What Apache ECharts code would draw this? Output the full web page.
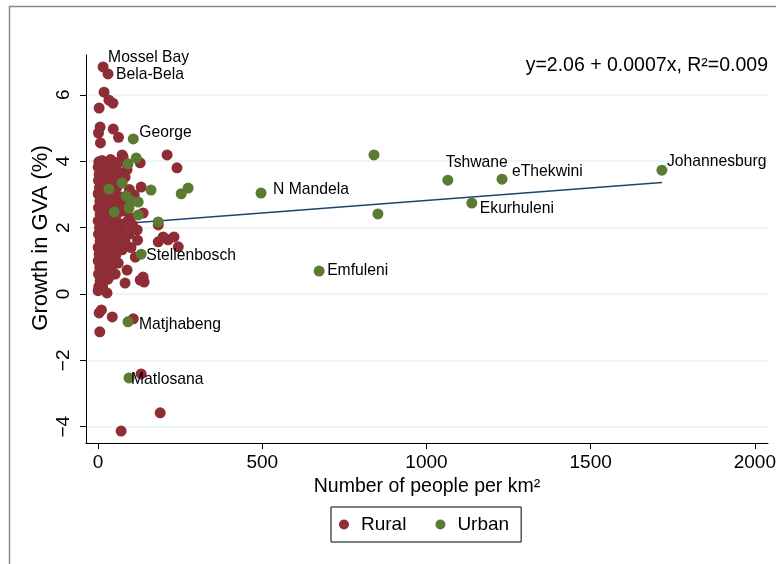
<!DOCTYPE html>
<html><head><meta charset="utf-8">
<script src="https://cdn.jsdelivr.net/npm/echarts@6/dist/echarts.min.js"></script>
<style>html,body{margin:0;padding:0;background:#fff}#c{width:776px;height:564px}</style>
</head><body><div id="c"></div>
<script>
// ---- data ----
const ruralPoints = [
  [18,6.08],[33,5.84],[45,5.75],[3,5.60],[6,5.03],[1,4.85],[46,4.97],[62,4.72],[7,4.55],
  [210,4.19],[240,3.80],[73,4.19],[76,4.13],[61,3.95],[128,3.95],
  [2,3.98],[12,4.02],[25,3.96],[38,4.05],[50,3.97],
  [0,3.82],[9,3.78],[20,3.85],[32,3.75],[44,3.80],[58,3.70],[88,3.75],
  [3,3.60],[14,3.62],[26,3.55],[40,3.60],[55,3.52],[68,3.58],[82,3.52],
  [1,3.42],[10,3.38],[22,3.45],[35,3.35],[48,3.40],[62,3.30],
  [4,3.20],[16,3.18],[28,3.22],[42,3.15],[56,3.20],[95,3.15],[131,3.22],
  [0,3.02],[12,2.98],[24,3.05],[36,2.95],[50,3.00],[70,2.92],[110,2.98],
  [5,2.80],[18,2.82],[30,2.75],[44,2.85],[60,2.78],[85,2.70],
  [1,2.60],[13,2.58],[25,2.65],[38,2.55],[52,2.62],[75,2.50],[137,2.44],
  [6,2.40],[18,2.38],[30,2.45],[42,2.35],[58,2.42],[98,2.30],
  [0,2.20],[11,2.22],[23,2.15],[35,2.25],[48,2.18],[66,2.12],[90,2.20],
  [4,2.00],[16,1.98],[28,2.05],[40,1.95],[55,2.02],[80,1.90],[119,1.93],[105,2.08],[183,2.08],
  [1,1.80],[12,1.82],[24,1.75],[36,1.85],[50,1.78],[70,1.72],[95,1.80],
  [198,1.72],[183,1.57],[213,1.63],[231,1.72],[244,1.42],
  [6,1.60],[18,1.62],[30,1.55],[44,1.65],[60,1.58],[82,1.57],[120,1.62],
  [0,1.40],[12,1.38],[24,1.45],[38,1.35],[52,1.42],[73,1.33],[100,1.40],
  [3,1.20],[15,1.22],[27,1.15],[40,1.25],[54,1.18],[113,1.11],
  [0,1.00],[10,0.98],[22,1.05],[34,0.95],[48,1.02],[61,0.93],
  [5,0.80],[17,0.82],[29,0.75],[42,0.85],[88,0.72],
  [1,0.60],[12,0.58],[24,0.65],[36,0.55],[52,0.60],[137,0.51],
  [6,0.40],[18,0.38],[30,0.45],[82,0.33],[128,0.42],[140,0.36],
  [2,0.22],[6,0.27],[14,0.18],[27,0.03],[0,0.10],
  [3,-0.57],[10,-0.48],[43,-0.69],[5,-1.14],[107,-0.75],
  [131,-2.41],[189,-3.58],[70,-4.13]
];
const ruralNames = ['Mossel Bay','Bela-Bela'];
const ruralNamedX = [15,30];
const ruralNamedY = [6.84,6.63];

const urbanNames = ['Johannesburg','eThekwini','Tshwane','Ekurhuleni','','','Emfuleni','N Mandela',
  '','','','','George','','','','','','','','','','','Stellenbosch','Matjhabeng','Matlosana'];
const urbanX = [1717,1230,1065,1138,840,852,673,496,253,274,183,161,107,116,91,33,73,85,100,122,94,49,122,131,91,94];
const urbanY = [3.73,3.46,3.43,2.74,4.19,2.41,0.69,3.04,3.02,3.19,2.17,3.13,4.67,4.10,3.92,3.16,3.34,2.95,2.80,2.77,2.59,2.47,2.38,1.20,-0.84,-2.53];

const fitLine = [[0,2.06],[1717,3.36]];
const xTicks = [0,500,1000,1500,2000];
const yTicks = [-4,-2,0,2,4,6];
const equationText = 'y=2.06 + 0.0007x, R\u00B2=0.009';
const xTitle = 'Number of people per km\u00B2';
const yTitle = 'Growth in GVA (%)';

// ---- styles ----
const FONT = "'Liberation Sans', Arial, Helvetica, sans-serif";
const RED = '#8f2d36', GREEN = '#5b7a32', NAVY = '#1a476f';
const labelOffset = {
  'Mossel Bay':[-0.5,-9], 'Bela-Bela':[2.5,1], 'George':[0.5,-6], 'N Mandela':[6.5,-3],
  'Tshwane':[-7.5,-17], 'eThekwini':[4.5,-7], 'Ekurhuleni':[2.5,6], 'Johannesburg':[-0.5,-8],
  'Emfuleni':[2.5,0], 'Stellenbosch':[-0.5,2], 'Matjhabeng':[5.5,3], 'Matlosana':[-3.5,2]
};
function lab(name){
  return {show:true, formatter:name, position:'right', distance:0, offset:labelOffset[name]||[0,0],
    color:'#000', fontSize:15.7, fontFamily:FONT};
}
const ruralData = ruralPoints.map(p=>({value:p})).concat(
  ruralNames.map((n,i)=>({value:[ruralNamedX[i],ruralNamedY[i]], label:lab(n)})));
const urbanData = urbanX.map((x,i)=>{
  const d = {value:[x,urbanY[i]]};
  if (urbanNames[i]) d.label = lab(urbanNames[i]);
  return d;
});
const plain = v => String(v).replace('-', '\u2212');

const chart = echarts.init(document.getElementById('c'), null, {renderer:'canvas'});
chart.setOption({
  animation:false,
  backgroundColor:'#fff',
  textStyle:{fontFamily:FONT},
  grid:{left:86, right:8, top:55, bottom:121, containLabel:false, outerBoundsMode:'none'},
  xAxis:{
    type:'value', min:-37, max:2040,
    name:xTitle, nameLocation:'middle', nameGap:28,
    nameTextStyle:{fontSize:19.5, color:'#000', fontFamily:FONT},
    axisLine:{show:true, onZero:false, lineStyle:{color:'#000', width:1}},
    axisTick:{show:true, length:6, customValues:xTicks, lineStyle:{color:'#000'}},
    axisLabel:{fontSize:19, color:'#000', margin:10, customValues:xTicks, fontFamily:FONT, formatter:plain},
    splitLine:{show:false}
  },
  yAxis:{
    type:'value', min:-4.49, max:7.2,
    axisLine:{show:true, onZero:false, lineStyle:{color:'#000', width:1}},
    axisTick:{show:true, length:6, customValues:yTicks, lineStyle:{color:'#000'}},
    axisLabel:{fontSize:19, color:'#000', margin:13, rotate:90, customValues:yTicks, fontFamily:FONT, formatter:plain},
    splitLine:{show:true, lineStyle:{color:'#eaf2f3', width:1.5}}
  },
  legend:{
    data:['Rural','Urban'], left:331, top:507, orient:'horizontal',
    icon:'circle', itemWidth:10, itemHeight:10, itemGap:29,
    padding:[8,12,8,8], borderColor:'#000', borderWidth:1,
    textStyle:{fontSize:19, color:'#000', fontFamily:FONT, padding:[0,0,0,7]}
  },
  graphic:[
    {type:'rect', shape:{x:9.5, y:6.5, width:800, height:600}, style:{fill:'none', stroke:'#8a8a8a', lineWidth:1.5}, silent:true},
    {type:'text', x:768, y:66, style:{text:equationText, fill:'#000', font:"19.5px "+FONT, textAlign:'right', textVerticalAlign:'middle'}, silent:true},
    {type:'text', x:41, y:238, rotation:Math.PI/2, style:{text:yTitle, fill:'#000', font:"22px "+FONT, textAlign:'center', textVerticalAlign:'middle'}, silent:true}
  ],
  series:[
    {type:'line', data:fitLine, symbol:'none', silent:true, z:1,
      lineStyle:{color:NAVY, width:1.5}},
    {type:'scatter', name:'Rural', data:ruralData, symbolSize:11, z:2,
      itemStyle:{color:RED, opacity:1}},
    {type:'scatter', name:'Urban', data:urbanData, symbolSize:11, z:3,
      itemStyle:{color:GREEN, opacity:1}}
  ]
});
</script></body></html>
